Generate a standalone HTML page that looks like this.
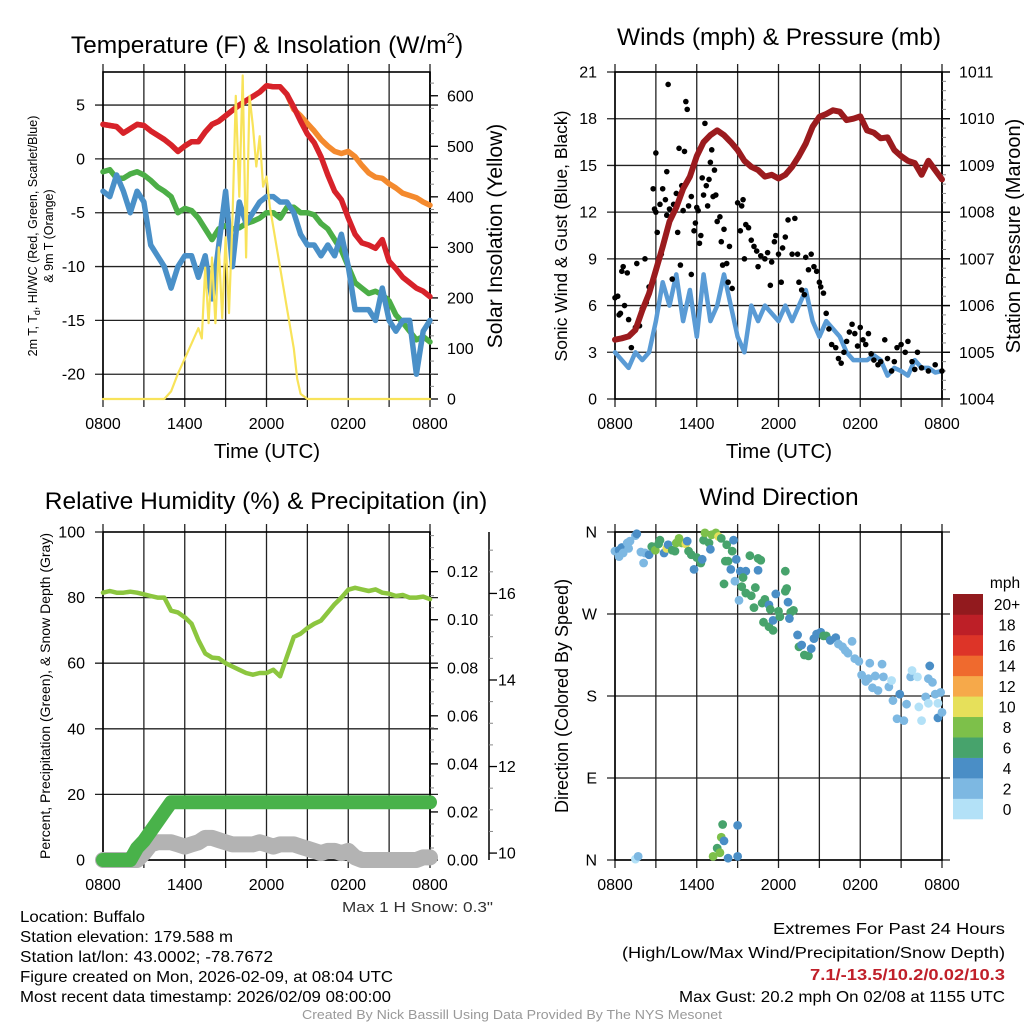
<!DOCTYPE html>
<html><head><meta charset="utf-8"><style>
html,body{margin:0;padding:0;background:#fff}
svg{display:block;font-family:"Liberation Sans",Arial,sans-serif}
</style></head><body>
<svg id="svg" width="1024" height="1024" viewBox="0 0 1024 1024" xmlns="http://www.w3.org/2000/svg">
<g id="layer"></g>
<g>
<text x="267" y="53" font-size="24.5" text-anchor="middle">Temperature (F) &amp; Insolation (W/m<tspan dy="-10" font-size="15">2</tspan><tspan dy="10">)</tspan></text>
<text x="779" y="45" font-size="24.5" text-anchor="middle">Winds (mph) &amp; Pressure (mb)</text>
<text x="266" y="509" font-size="24.5" text-anchor="middle">Relative Humidity (%) &amp; Precipitation (in)</text>
<text x="779" y="505" font-size="24.5" text-anchor="middle">Wind Direction</text>
<text x="267" y="458" font-size="20.5" text-anchor="middle">Time (UTC)</text>
<text x="779" y="458" font-size="20.5" text-anchor="middle">Time (UTC)</text>
<text transform="translate(37,236) rotate(-90)" font-size="12.5" text-anchor="middle">2m T, T<tspan dy="3" font-size="9">d</tspan><tspan dy="-3">, HI/WC (Red, Green, Scarlet/Blue)</tspan></text>
<text transform="translate(53,236) rotate(-90)" font-size="12.5" text-anchor="middle">&amp; 9m T (Orange)</text>
<text transform="translate(502,236) rotate(-90)" font-size="21" text-anchor="middle">Solar Insolation (Yellow)</text>
<text transform="translate(567,236) rotate(-90)" font-size="17.5" text-anchor="middle">Sonic Wind &amp; Gust (Blue, Black)</text>
<text transform="translate(1020,236) rotate(-90)" font-size="20" text-anchor="middle">Station Pressure (Maroon)</text>
<text transform="translate(50,696) rotate(-90)" font-size="14" text-anchor="middle">Percent, Precipitation (Green), &amp; Snow Depth (Gray)</text>
<text transform="translate(568,696) rotate(-90)" font-size="18" text-anchor="middle">Direction (Colored By Speed)</text>
<text x="493" y="912" font-size="15" text-anchor="end" fill="#333" textLength="151" lengthAdjust="spacingAndGlyphs">Max 1 H Snow: 0.3"</text>
<g font-size="16">
<text x="20" y="922" textLength="125" lengthAdjust="spacingAndGlyphs">Location: Buffalo</text>
<text x="20" y="942" textLength="213" lengthAdjust="spacingAndGlyphs">Station elevation: 179.588 m</text>
<text x="20" y="962" textLength="253" lengthAdjust="spacingAndGlyphs">Station lat/lon: 43.0002; -78.7672</text>
<text x="20" y="982" textLength="373" lengthAdjust="spacingAndGlyphs">Figure created on Mon, 2026-02-09, at 08:04 UTC</text>
<text x="20" y="1002" textLength="371" lengthAdjust="spacingAndGlyphs">Most recent data timestamp: 2026/02/09 08:00:00</text>
</g>
<g font-size="16" text-anchor="end">
<text x="1005" y="934" textLength="232" lengthAdjust="spacingAndGlyphs">Extremes For Past 24 Hours</text>
<text x="1005" y="958" textLength="383" lengthAdjust="spacingAndGlyphs">(High/Low/Max Wind/Precipitation/Snow Depth)</text>
<text x="1005" y="980" fill="#c0202a" font-weight="bold" textLength="195" lengthAdjust="spacingAndGlyphs">7.1/-13.5/10.2/0.02/10.3</text>
<text x="1005" y="1002" textLength="326" lengthAdjust="spacingAndGlyphs">Max Gust: 20.2 mph On 02/08 at 1155 UTC</text>
</g>
<text x="512" y="1019" font-size="13" text-anchor="middle" fill="#999" textLength="420" lengthAdjust="spacingAndGlyphs">Created By Nick Bassill Using Data Provided By The NYS Mesonet</text>
</g>
</svg>
<script>
const hours=[0,0.5,1,1.5,2,2.5,3,3.5,4,4.5,5,5.5,6,6.5,7,7.5,8,8.5,9,9.5,10,10.5,11,11.5,12,12.5,13,13.5,14,14.5,15,15.5,16,16.5,17,17.5,18,18.5,19,19.5,20,20.5,21,21.5,22,22.5,23,23.5,24];
const timeTickLabels=["0800","1400","2000","0200","0800"];
const temp2m=[3.2,3.1,3.0,2.4,2.8,3.2,3.1,2.6,2.2,1.8,1.3,0.7,1.2,1.6,1.6,2.5,3.2,3.5,4.0,4.5,5.0,5.4,5.8,6.2,6.8,6.7,6.7,6.0,4.8,3.5,2.3,1.5,0.2,-1.5,-3.0,-3.8,-5.5,-7.0,-7.8,-8.0,-8.3,-7.5,-9.5,-10.2,-11.0,-11.5,-12.0,-12.3,-12.8];
const temp9m=[3.2,3.1,3.0,2.4,2.8,3.2,3.1,2.6,2.2,1.8,1.3,0.7,1.2,1.6,1.6,2.5,3.2,3.5,4.0,4.5,5.0,5.4,5.8,6.2,6.8,6.7,6.7,6.0,4.6,4.0,3.3,2.6,1.8,1.2,0.7,0.5,0.7,0.2,-0.6,-1.3,-1.7,-1.8,-2.3,-2.7,-3.2,-3.4,-3.6,-4.0,-4.3];
const dewpoint=[-1.2,-1.0,-1.8,-1.8,-1.4,-1.2,-1.5,-2.0,-2.6,-3.0,-3.5,-5.0,-4.6,-4.8,-5.5,-6.5,-7.5,-6.5,-6.2,-6.5,-6.4,-6.0,-5.8,-5.5,-5.0,-5.0,-5.5,-4.5,-4.5,-5.0,-5.0,-5.2,-6.0,-6.5,-7.5,-8.5,-10,-11.5,-12.0,-12.5,-12.3,-12.6,-13.2,-14.5,-15.2,-16,-16.8,-16.5,-17.0];
const windChill=[-3,-3.5,-1.5,-3,-5,-3,-4,-8,-9,-10,-12,-10,-9,-9,-11,-9,-13,-8,-3,-10,-4,-6,-5,-4,-3.5,-3.5,-4,-4,-5,-7,-8,-8,-9,-8,-9,-7,-10,-14,-14,-14,-15,-12,-15,-16,-15,-15,-20,-16,-15];
const solarT=[0,4.5,5,5.5,6,6.5,7,7.25,7.5,7.75,8,8.25,8.5,8.75,9,9.25,9.5,9.75,10,10.25,10.5,10.75,11,11.25,11.5,11.75,12,12.25,12.5,13,13.5,14,14.25,14.5,15,24];
const solarV=[0,0,15,50,80,110,140,120,260,150,280,150,300,160,320,170,350,600,400,640,280,600,540,460,520,420,440,380,340,260,180,100,40,10,0,0];
const windSpeed=[3,2.5,2,3,2.5,3,5,7.5,6,8,5,7,4,8,5,6,8,6,4,3,6,5,6,5.5,5,6,5,6,7,5,4,5,4.5,4,3,2.5,2.5,2.5,2.8,2.5,1.5,2,1.8,1.5,2.5,2,2,1.7,1.8];
const pressure=[1005.27,1005.3,1005.34,1005.48,1005.9,1006.26,1006.76,1007.26,1007.8,1008.1,1008.5,1008.76,1009.2,1009.5,1009.65,1009.75,1009.65,1009.5,1009.33,1009.1,1008.97,1008.9,1008.76,1008.8,1008.72,1008.8,1008.97,1009.2,1009.47,1009.83,1010.04,1010.1,1010.18,1010.15,1009.97,1010.0,1010.05,1009.75,1009.7,1009.58,1009.6,1009.33,1009.2,1009.1,1009.05,1008.8,1009.1,1008.9,1008.7];
const gustT=[0,0.2,0.3,0.4,0.5,0.6,0.7,0.9,1.0,1.2,1.5,1.6,1.8,2.0,2.2,2.3,2.5,2.8,2.9,3.0,3.0,3.1,3.3,3.4,3.5,3.7,3.8,3.8,3.9,4.0,4.2,4.3,4.5,4.6,4.7,4.8,4.9,5.0,5.1,5.2,5.3,5.4,5.6,5.6,5.8,5.9,6.0,6.1,6.2,6.3,6.4,6.5,6.6,6.7,6.8,6.9,7.0,7.1,7.2,7.3,7.4,7.5,7.7,7.8,7.9,8.0,8.2,8.3,8.4,8.6,9.0,9.2,9.3,9.4,9.5,9.6,9.8,10.0,10.2,10.4,10.5,10.7,11.0,11.2,11.4,11.5,11.7,11.8,12.0,12.2,12.3,12.5,12.7,13.0,13.2,13.4,13.5,13.7,13.9,14.0,14.2,14.4,14.6,14.8,15.0,15.1,15.3,15.5,15.7,15.9,16.2,16.4,16.6,16.8,17.0,17.2,17.4,17.6,17.8,18.0,18.2,18.4,18.6,18.8,19.0,19.3,19.5,19.8,20.0,20.3,20.5,20.7,21.0,21.3,21.5,21.8,22.0,22.2,22.5,23.0,23.5,24];
const gustV=[6.5,6.6,5.4,5.5,8.2,8.5,6.0,8.1,5.1,3.3,4.6,8.7,4.7,5.8,9.0,6.2,7.2,13.5,12.2,12.0,15.8,10.7,12.5,9.3,13.5,12.8,14.6,11.8,20.2,12.2,7.7,12.5,13.2,10.7,16.1,8.6,13.7,12.1,15.9,19.1,18.6,12.4,13.0,8.0,10.8,11.3,12.3,12.1,10.0,10.5,14.2,13.1,17.7,13.7,12.4,14.1,15.2,16.0,13.0,14.7,13.1,11.4,11.7,10.1,8.6,10.9,8.7,7.5,9.8,7.1,12.6,10.8,12.4,12.8,9.0,11.2,11.0,10.2,9.8,9.5,8.5,9.2,9.0,9.4,7.3,8.8,10.1,10.5,9.3,7.5,9.7,10.4,11.5,9.3,11.6,9.3,7.5,7.0,6.7,9.1,8.3,9.3,8.5,8.2,7.5,7.2,6.8,5.5,4.5,3.5,3.3,2.6,2.3,3.0,3.7,4.3,4.8,4.2,3.4,4.6,3.8,3.5,4.2,2.9,2.5,2.2,2.4,3.8,2.6,1.8,2.4,3.3,3.5,3.0,3.7,2.4,1.9,3.0,2.0,1.8,2.2,1.8];
const rhValues=[81.5,82,81.5,81.5,81.8,81.5,81,80.5,80,80,76,75.5,74,72,67,63,61.7,61.5,60,59,58,57,56.5,57,57,58,56,62,68,69,70.7,72,73,75.5,78,80,82.4,83,82.5,82,82.5,81.5,81.2,80.5,80.8,80,80,80.3,79.5];
const precipValues=[0,0,0,0,0,0.005,0.008,0.012,0.016,0.02,0.024,0.024,0.024,0.024,0.024,0.024,0.024,0.024,0.024,0.024,0.024,0.024,0.024,0.024,0.024,0.024,0.024,0.024,0.024,0.024,0.024,0.024,0.024,0.024,0.024,0.024,0.024,0.024,0.024,0.024,0.024,0.024,0.024,0.024,0.024,0.024,0.024,0.024,0.024];
const snowDepth=[9.84,9.84,9.84,9.84,9.84,9.84,10.0,10.2,10.25,10.25,10.25,10.2,10.15,10.2,10.25,10.35,10.35,10.3,10.25,10.2,10.2,10.2,10.2,10.25,10.2,10.15,10.2,10.2,10.2,10.15,10.1,10.05,10.0,10.05,10.05,10.0,10.05,9.9,9.84,9.84,9.84,9.84,9.84,9.84,9.84,9.84,9.84,9.9,9.9];
const dirT=[0,0.3,0.5,0.9,1.1,1.5,1.6,1.9,2.1,2.2,2.5,0.3,0.6,1.0,2.7,2.96,3.2,3.3,3.6,3.8,3.9,4.2,4.4,4.5,4.7,4.9,5.2,5.3,5.4,5.6,5.8,6.0,6.3,6.4,6.5,6.6,6.9,7.0,7.1,7.4,7.6,7.8,8.2,8.6,8.7,8.1,8.3,8.5,8.9,9.2,9.6,9.4,8.8,9.1,8.0,9.3,9.6,9.9,10.5,10.5,10.7,10.3,10.0,10.2,10.8,11.0,11.3,11.4,10.9,11.3,11.6,11.6,11.8,12.0,12.1,12.5,12.5,12.6,12.7,12.9,13.1,12.8,13.4,13.5,13.7,13.9,14.2,14.4,14.6,14.8,15.1,15.3,15.5,15.8,16.2,16.4,16.7,16.9,17.1,17.4,17.6,17.9,18.1,18.4,18.6,18.7,18.9,19.1,19.3,19.6,19.7,20.1,20.3,20.4,20.7,20.9,21.2,21.4,21.7,21.8,22.2,22.3,22.5,22.8,23.1,23.0,23.3,23.5,23.7,23.9,24.0,23.7,23.0,1.5,1.7,7.2,7.5,7.7,7.8,8.0,7.9,8.3,9.0,9.0];
const dirDeg=[339,340,343,348,350,356,358,338,326,337,335,333,337,342,344,340,347,351,337,342,346,340,339,348,353,348,347,350,339,335,319,332,326,330,351,359,348,341,357,359,355,353,346,339,351,328,328,319,330,317,317,310,306,285,303,300,293,334,318,331,329,299,290,277,282,286,280,275,261,256,252,263,292,273,267,317,295,298,283,272,274,265,247,234,236,225,224,232,243,248,250,246,246,241,244,237,234,230,227,240,221,218,203,196,199,216,189,202,186,215,201,190,197,175,155,182,153,171,201,208,201,168,153,179,213,199,195,182,156,184,162,172,172,1,4,4,13,8,25,21,39,2,38,4];
const dirSpeed=[3,4,4,3,3,2,4,2,2,3,4,2,2,2,6,8,6,6,4,10,4,6,6,8,8,8,10,4,6,6,4,6,6,4,6,8,6,4,8,8,10,6,6,6,4,6,6,4,4,4,4,6,2,2,6,6,6,6,4,6,6,6,6,6,6,6,4,6,6,6,6,4,4,6,6,6,6,6,4,6,6,4,4,6,4,6,6,4,4,4,4,6,6,4,4,2,2,2,2,2,2,2,2,2,2,2,2,2,2,2,2,2,1,2,2,4,2,2,2,1,1,1,1,2,4,2,2,2,4,2,2,1,1,1,2,8,6,8,8,4,6,4,4,4];
const speedBinLabels=["0","2","4","6","8","10","12","14","16","18","20+"];
const speedBinColors=["#b3e1f7","#7db8e2","#4a8ec6","#47a36c","#7dc04a","#e6e05a","#f6a94a","#ef6a2e","#dd3428","#bd1f27","#921a1e"];

const NS="http://www.w3.org/2000/svg";
const layer=document.getElementById('layer');
function mk(tag,attrs,parent){const e=document.createElementNS(NS,tag);for(const k in attrs)e.setAttribute(k,attrs[k]);(parent||layer).appendChild(e);return e;}
function lin(d0,d1,r0,r1){return v=>r0+(v-d0)/(d1-d0)*(r1-r0);}

const P1={x0:103,x1:430,y0:72,y1:399};
const P2={x0:615,x1:942,y0:72,y1:399};
const P3={x0:103,x1:430,y0:532,y1:860};
const P4={x0:615,x1:942,y0:532,y1:860};
const TF=16;

function grid(P,name,yTicks,ys,yLabelFn){
  const g=mk('g',{});
  
  
  const xs=lin(0,24,P.x0,P.x1);
  for(let h=0;h<=24;h+=3){
    const x=xs(h);
    const l=mk('line',{x1:x,x2:x,y1:P.y0-8,y2:P.y1+8,stroke:'#222','stroke-width':1.3},g);
    
    
  }
  timeTickLabels.forEach((lab,i)=>{
    const t=mk('text',{x:xs(i*6),y:P.y1+30,'font-size':TF,'text-anchor':'middle'},g);
    
    
    t.textContent=lab;
  });
  yTicks.forEach(v=>{
    const y=ys(v);
    const l=mk('line',{x1:P.x0-8,x2:P.x1+8,y1:y,y2:y,stroke:'#222','stroke-width':1.3},g);
    
    
    const t=mk('text',{x:P.x0-18,y:y+5.5,'font-size':TF,'text-anchor':'end'},g);
    
    
    t.textContent=yLabelFn(v);
  });
  const r=mk('rect',{x:P.x0,y:P.y0,width:P.x1-P.x0,height:P.y1-P.y0,fill:'none',stroke:'#000','stroke-width':1.6},g);
  
  
  return xs;
}
function rightAxis(x,y0,y1,ys,majors,minors,fmt,name,dir,labelX){
  const g=mk('g',{});
  
  
  mk('line',{x1:x,x2:x,y1:y0,y2:y1,stroke:'#000','stroke-width':1.5},g);
  minors.forEach(v=>{const y=ys(v);mk('line',{x1:x,x2:x+dir*4,y1:y,y2:y,stroke:'#888','stroke-width':1},g);});
  majors.forEach(v=>{const y=ys(v);mk('line',{x1:x,x2:x+dir*8,y1:y,y2:y,stroke:'#000','stroke-width':1.3},g);
    const t=mk('text',{x:labelX,y:y+5.5,'font-size':TF,'text-anchor':'start'},g);
    
    
    t.textContent=fmt(v);});
}
function range(a,b,s){const r=[];for(let v=a;v<=b+1e-9;v+=s)r.push(+v.toFixed(4));return r;}
function path(xs,ys,T,V,attrs,name){
  const d=T.map((t,i)=>(i?'L':'M')+xs(t).toFixed(1)+','+ys(V[i]).toFixed(1)).join('');
  const p=mk('path',Object.assign({d:d,fill:'none','stroke-linejoin':'round','stroke-linecap':'round'},attrs));
  
  
  return p;
}

// Panel 1
const ys1=lin(-22.3,8.07,P1.y1,P1.y0);
const xs1=grid(P1,'temp',[-20,-15,-10,-5,0,5],ys1,v=>String(v));
const ysSol=lin(0,647,P1.y1,P1.y0);
rightAxis(P1.x1,P1.y0,P1.y1,ysSol,range(0,600,100),range(0,640,25),v=>String(v),'solar-axis',1,P1.x1+17);
path(xs1,ys1,hours,temp9m,{stroke:'#f48a2e','stroke-width':5.5},'temp-9m-line');
path(xs1,ys1,hours,temp2m,{stroke:'#d7222a','stroke-width':5.5},'temp-2m-line');
path(xs1,ys1,hours,dewpoint,{stroke:'#4cae47','stroke-width':5.5},'dewpoint-line');
path(xs1,ys1,hours,windChill,{stroke:'#4a90c8','stroke-width':5.5},'windchill-line');
path(xs1,ysSol,solarT,solarV,{stroke:'#f8e35a','stroke-width':2.2},'solar-line');

// Panel 2
const ys2=lin(0,21,P2.y1,P2.y0);
const xs2=grid(P2,'wind',[0,3,6,9,12,15,18,21],ys2,v=>String(v));
const ysP=lin(1004,1011,P2.y1,P2.y0);
rightAxis(P2.x1,P2.y0,P2.y1,ysP,range(1004,1011,1),range(1004,1011,0.2),v=>String(v),'pressure-axis',1,P2.x1+17);
path(xs2,ys2,hours,windSpeed,{stroke:'#5a9bd5','stroke-width':4.5},'wind-speed-line');
gustT.forEach((t,i)=>{
  const c=mk('circle',{cx:xs2(t),cy:ys2(gustV[i]),r:2.8,fill:'#000'});
  
  
});
path(xs2,ysP,hours,pressure,{stroke:'#9b1b1e','stroke-width':6},'pressure-line');

// Panel 3
const ys3=lin(0,100,P3.y1,P3.y0);
const xs3=grid(P3,'rh',[0,20,40,60,80],ys3,v=>String(v));
{const t=mk('text',{x:P3.x0-18,y:P3.y0+5.5,'font-size':TF,'text-anchor':'end'});t.textContent='100';
 mk('line',{x1:P3.x0-8,x2:P3.x0,y1:P3.y0,y2:P3.y0,stroke:'#222','stroke-width':1.3});}
const ysPr=lin(0,0.1365,P3.y1,P3.y0);
rightAxis(P3.x1,P3.y0,P3.y1,ysPr,range(0,0.12,0.02),range(0,0.135,0.005),v=>v.toFixed(2),'precip-axis',1,P3.x1+17);
const ysSn=lin(9.84,17.42,P3.y1,P3.y0);
rightAxis(489,P3.y0,P3.y1,ysSn,[10,12,14,16],range(10,17,0.5),v=>String(v),'snow-axis',1,498);
path(xs3,ysSn,hours,snowDepth,{stroke:'#b3b3b3','stroke-width':16},'snow-depth-line');
path(xs3,ysPr,hours,precipValues,{stroke:'#49b24a','stroke-width':14},'precip-line');
path(xs3,ys3,hours,rhValues,{stroke:'#8cc63f','stroke-width':4.5},'rh-line');

// Panel 4
const ys4=lin(0,360,P4.y1,P4.y0);
const xs4=grid(P4,'dir',[0,90,180,270,360],ys4,v=>({0:'N',90:'E',180:'S',270:'W',360:'N'})[v]);
dirT.forEach((t,i)=>{
  const bin=Math.min(10,Math.floor(dirSpeed[i]/2));
  const c=mk('circle',{cx:xs4(t),cy:ys4(dirDeg[i]),r:4.4,fill:speedBinColors[bin]});
  
  
});
const cbg=mk('g',{});


const cbTop=594,cbBot=819,cbH=(cbBot-cbTop)/speedBinColors.length;
speedBinColors.forEach((col,i)=>{
  const y=cbBot-(i+1)*cbH;
  const r=mk('rect',{x:953,y:y,width:30,height:cbH+0.3,fill:col},cbg);
  
  
  const t=mk('text',{x:1007,y:y+cbH/2+6,'font-size':15.5,'text-anchor':'middle'},cbg);
  
  
  t.textContent=speedBinLabels[i];
});
{const t=mk('text',{x:1005,y:588,'font-size':15.5,'text-anchor':'middle'},cbg);t.textContent='mph';}
</script>
</body></html>
